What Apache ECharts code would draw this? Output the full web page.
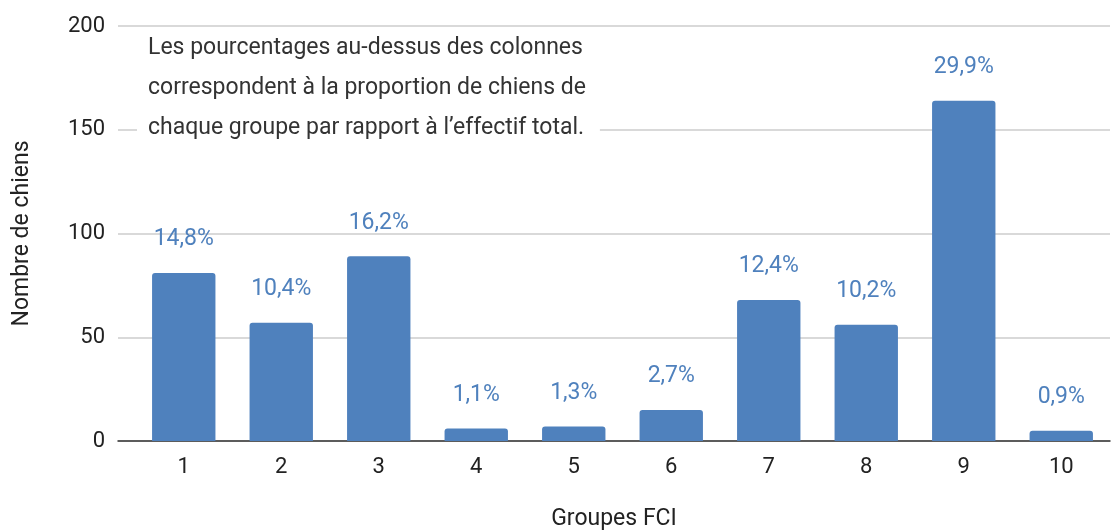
<!DOCTYPE html>
<html>
<head>
<meta charset="utf-8">
<script src="https://cdn.jsdelivr.net/npm/echarts@6/dist/echarts.min.js"></script>
<style>
  html, body { margin: 0; padding: 0; background: #fff; }
  #chart { width: 1113px; height: 532px; }
</style>
</head>
<body>
<div id="chart"></div>
<script>
// FCI groups and number of dogs per group
const groupes = ["1", "2", "3", "4", "5", "6", "7", "8", "9", "10"];
const nombreChiens = [81, 57, 89, 6, 7, 15, 68, 56, 164, 5];
const pourcentages = ["14,8%", "10,4%", "16,2%", "1,1%", "1,3%", "2,7%", "12,4%", "10,2%", "29,9%", "0,9%"];
const yTicks = [0, 50, 100, 150, 200];

const note = "Les pourcentages au-dessus des colonnes\ncorrespondent à la proportion de chiens de\nchaque groupe par rapport à l’effectif total.";

const chart = echarts.init(document.getElementById("chart"));
chart.setOption({
  animation: false,
  textStyle: { fontFamily: "Roboto, Arial, sans-serif" },
  grid: [
    { left: 118, right: 3, top: 26, bottom: 91, outerBoundsMode: "none" },
    { left: 135, right: 3, top: 26, bottom: 91, outerBoundsMode: "none" }
  ],
  xAxis: [
    {
      // only used for the full-width baseline and the axis title
      gridIndex: 0,
      type: "value",
      min: 0,
      max: 1,
      axisLine: { show: true, lineStyle: { color: "#333", width: 1.5 } },
      axisTick: { show: false },
      axisLabel: { show: false },
      splitLine: { show: false },
      name: "Groupes FCI",
      nameLocation: "middle",
      nameGap: 67,
      nameTextStyle: { fontSize: 23, color: "#222" }
    },
    {
      gridIndex: 1,
      type: "category",
      data: groupes,
      axisLine: { show: false },
      axisTick: { show: false },
      axisLabel: { fontSize: 22, color: "#222", margin: 15 }
    }
  ],
  yAxis: [
    {
      gridIndex: 0,
      type: "value",
      min: yTicks[0],
      max: yTicks[yTicks.length - 1],
      interval: 50,
      axisLine: { show: false },
      axisTick: { show: false },
      axisLabel: { fontSize: 22, color: "#222", margin: 13 },
      splitLine: { lineStyle: { color: "#cccccc", width: 1.5 } },
      name: "Nombre de chiens",
      nameLocation: "middle",
      nameGap: 84,
      nameTextStyle: { fontSize: 23, color: "#222" }
    },
    {
      gridIndex: 1,
      type: "value",
      min: yTicks[0],
      max: yTicks[yTicks.length - 1],
      show: false
    }
  ],
  series: [
    {
      type: "bar",
      xAxisIndex: 1,
      yAxisIndex: 1,
      data: nombreChiens,
      barWidth: "65%",
      itemStyle: { color: "#4f81bd", borderRadius: [3, 3, 0, 0] },
      label: {
        show: true,
        position: "top",
        distance: 22,
        fontSize: 23,
        color: "#4f81bd",
        formatter: p => pourcentages[p.dataIndex]
      }
    }
  ],
  graphic: [
    {
      type: "text",
      left: 137,
      top: 28,
      z: 100,
      style: {
        text: note,
        fontFamily: "Roboto, Arial, sans-serif",
        fontSize: 23,
        lineHeight: 40,
        fill: "#333",
        backgroundColor: "#fff",
        padding: [0, 14, 2, 11]
      }
    }
  ]
});
</script>
</body>
</html>
